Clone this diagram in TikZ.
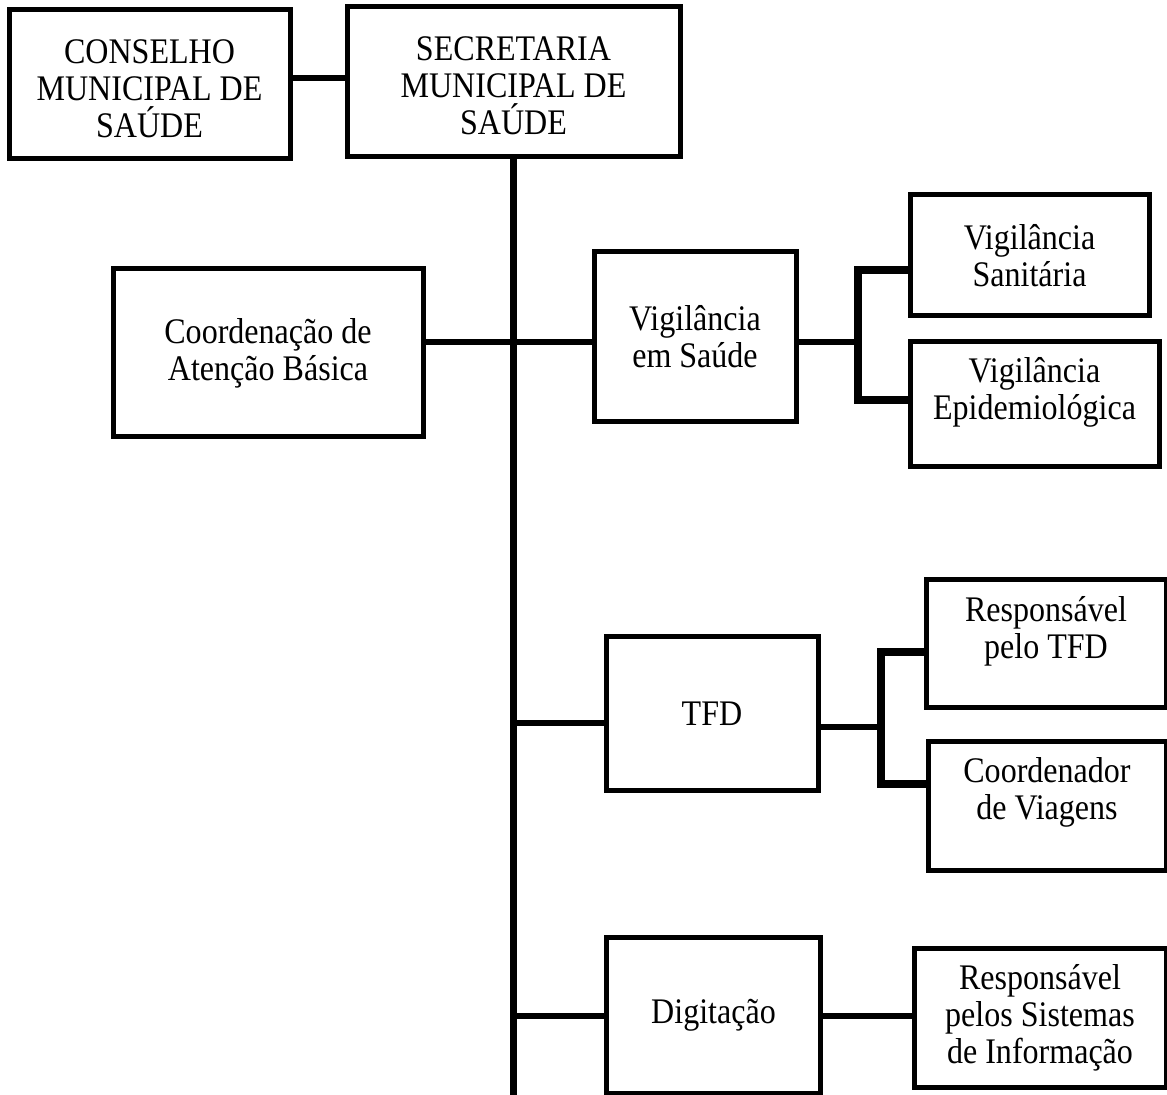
\documentclass[tikz,border=0pt]{standalone}
\usepackage{fontspec}
\setmainfont{Liberation Serif}[FakeStretch=0.89]
\usetikzlibrary{positioning}

\begin{document}
\begin{tikzpicture}[
    x=0.5pt, y=-0.5pt,
    boxtext/.style={
        font=\fontsize{18}{18.5}\selectfont,
        align=center
    },
    orgbox/.style 2 args={
        boxtext,
        draw=black,
        line width=2.5pt,
        inner sep=0pt,
        minimum width=#1*0.5pt,
        minimum height=#2*0.5pt
    },
    link/.style={
        black,
        line width=3.4pt
    },
    bracket/.style={
        black,
        line width=4pt,
        line join=miter
    }
]
\useasboundingbox (0,0) rectangle (1167,1095);

% Top level
\node[orgbox={281}{149},
      label={[boxtext, yshift=-2pt]center:{CONSELHO\\MUNICIPAL DE\\SAÚDE}}] (conselho) at (149.5,84.5) {};
\node[orgbox={333}{150},
      label={[boxtext, yshift=-2pt]center:{SECRETARIA\\MUNICIPAL DE\\SAÚDE}}] (secretaria) at (513.5,82) {};

% Atencao basica and vigilancia
\node[orgbox={310}{168}] (atencao) at (268,353) {Coordenação de\\Atenção Básica};
\node[orgbox={202}{170}] (vigsaude) at (695,337) {Vigilância\\em Saúde};
\node[orgbox={239}{121}] (sanitaria) at (1029.5,255.5) {Vigilância\\Sanitária};
\node[orgbox={249}{125},
      label={[boxtext, yshift=6pt]center:{Vigilância\\Epidemiológica}}] (epidem) at (1034.5,404.5) {};

% TFD
\node[orgbox={212}{153}] (tfd) at (712,713.5) {TFD};
\node[orgbox={240}{128},
      label={[boxtext, yshift=6.5pt]center:{Responsável\\pelo TFD}}] (resptfd) at (1046,644) {};
\node[orgbox={238}{128},
      label={[boxtext, yshift=7pt]center:{Coordenador\\de Viagens}}] (viagens) at (1047,806) {};

% Digitacao
\node[orgbox={214}{156}] (digitacao) at (713.5,1015) {Digitação};
\node[orgbox={252}{139}] (sistemas) at (1040,1017.5) {Responsável\\pelos Sistemas\\de Informação};

% Junction points
\coordinate (topLink) at (318,78);
\coordinate (trunkEnd) at (513.5,1100);
\coordinate (saudeJoin) at (513.5,342);
\coordinate (vsTop) at (858,270);
\coordinate (vsBot) at (858,400);
\coordinate (tfdJoin) at (513.5,723);
\coordinate (tfdOut) at (881,727);
\coordinate (tfdTop) at (881,652);
\coordinate (tfdBot) at (881,784);
\coordinate (digJoin) at (513.5,1016);

% Connectors
\draw[link] (conselho.east |- topLink) -- (secretaria.west |- topLink);
\draw[link] (secretaria.south) -- (trunkEnd);
\draw[link] (atencao.east |- saudeJoin) -- (vigsaude.west |- saudeJoin);
\draw[link] (vigsaude.east |- saudeJoin) -- (vsTop |- saudeJoin);
\draw[bracket] (sanitaria.west |- vsTop) -- (vsTop) -- (vsBot) -- (epidem.west |- vsBot);
\draw[link] (tfdJoin) -- (tfd.west |- tfdJoin);
\draw[link] (tfd.east |- tfdOut) -- (tfdOut);
\draw[bracket] (resptfd.west |- tfdTop) -- (tfdTop) -- (tfdBot) -- (viagens.west |- tfdBot);
\draw[link] (digJoin) -- (digitacao.west |- digJoin);
\draw[link] (digitacao.east |- digJoin) -- (sistemas.west |- digJoin);
\end{tikzpicture}
\end{document}
